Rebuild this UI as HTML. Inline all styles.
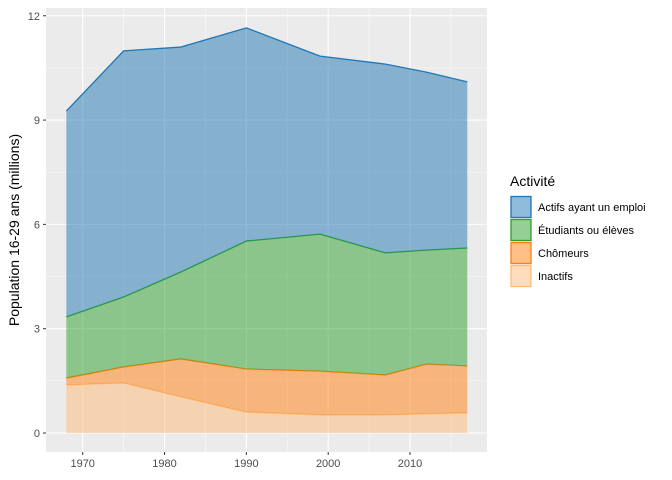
<!DOCTYPE html>
<html><head><meta charset="utf-8"><style>
body{margin:0;background:#fff;}
svg{display:block;font-family:"Liberation Sans",sans-serif;}
</style></head><body>
<svg id="chart" width="672" height="480">
<rect x="46" y="8" width="441" height="444" fill="#ebebeb"/>
<g id="grid"></g>
<g id="areas"></g>
<g id="axes"></g>
<text transform="translate(19,230) rotate(-90)" text-anchor="middle" font-size="14" fill="#000">Population 16-29 ans (millions)</text>
<g id="legend">
<text x="510" y="186" font-size="14" fill="#000">Activité</text>
</g>
</svg>
<script>
const years=[1968,1975,1982,1990,1999,2007,2012,2017];
const inactifs=[1.38,1.44,1.04,0.60,0.52,0.52,0.55,0.58];
const chomeurs=[0.20,0.46,1.09,1.24,1.26,1.15,1.43,1.35];
const etudiants=[1.76,2.01,2.50,3.68,3.94,3.51,3.28,3.39];
const actifs=[5.92,7.08,6.47,6.13,5.12,5.43,5.12,4.78];
const seriesNames=["Actifs ayant un emploi","Étudiants ou élèves","Chômeurs","Inactifs"];
const seriesColors=["#1f77b4","#2ca02c","#ff7f0e","#ffbb78"];
const xTicks=[1970,1980,1990,2000,2010];
const yTicks=[0,3,6,9,12];
const ns="http://www.w3.org/2000/svg";
const X=v=>82.7+(v-1970)*8.183;
const Y=v=>433-v*34.77;
function mk(t,a,p){const e=document.createElementNS(ns,t);for(const k in a)e.setAttribute(k,a[k]);p.appendChild(e);return e;}
const grid=document.getElementById('grid'),axes=document.getElementById('axes'),areas=document.getElementById('areas');
for(let i=0;i<yTicks.length;i++){
  const l=mk('line',{x1:46,x2:487,y1:Y(yTicks[i]),y2:Y(yTicks[i]),stroke:'#fff','stroke-width':1.1},grid);
  
  
  if(i<yTicks.length-1){const m=mk('line',{x1:46,x2:487,y1:Y((yTicks[i]+yTicks[i+1])/2),y2:Y((yTicks[i]+yTicks[i+1])/2),stroke:'#fafafa','stroke-width':0.5},grid);
  
  }
  const t=mk('text',{x:40,y:Y(yTicks[i])+4,'text-anchor':'end','font-size':11,fill:'#4d4d4d'},axes);
  t.textContent=yTicks[i];
  
  
  mk('line',{x1:43,x2:46,y1:Y(yTicks[i]),y2:Y(yTicks[i]),stroke:'#333'},axes);
}
for(let i=0;i<xTicks.length;i++){
  const l=mk('line',{x1:X(xTicks[i]),x2:X(xTicks[i]),y1:8,y2:452,stroke:'#fff','stroke-width':1.1},grid);
  
  
  [xTicks[i]-5,xTicks[i]+5].forEach(v=>{if(X(v)>46&&X(v)<487){const m=mk('line',{x1:X(v),x2:X(v),y1:8,y2:452,stroke:'#fafafa','stroke-width':0.5},grid);
  
  }});
  const t=mk('text',{x:X(xTicks[i]),y:467,'text-anchor':'middle','font-size':11,fill:'#4d4d4d'},axes);
  t.textContent=xTicks[i];
  
  
  mk('line',{x1:X(xTicks[i]),x2:X(xTicks[i]),y1:452,y2:455,stroke:'#333'},axes);
}
const layers=[inactifs,chomeurs,etudiants,actifs];
let base=years.map(()=>0);
const built=[];
for(let s=0;s<layers.length;s++){
  const top=base.map((b,i)=>b+layers[s][i]);
  built.push({base:base.slice(),top});
  base=top;
}
const names=['inactifs','chomeurs','etudiants','actifs'];
const cols=[seriesColors[3],seriesColors[2],seriesColors[1],seriesColors[0]];
for(let s=0;s<built.length;s++){
  const {base:b,top}=built[s];
  let d='M'+years.map((y,i)=>X(y)+','+Y(top[i])).join('L');
  d+='L'+years.map((y,i)=>[X(y),Y(b[i])]).reverse().map(p=>p.join(',')).join('L')+'Z';
  const a=mk('path',{d,fill:cols[s],'fill-opacity':0.5,stroke:'none'},areas);
  
  
  const ln=mk('path',{d:'M'+years.map((y,i)=>X(y)+','+Y(top[i])).join('L'),fill:'none',stroke:cols[s],'stroke-width':1.3},areas);
  
  
}
const lg=document.getElementById('legend');
for(let i=0;i<seriesNames.length;i++){
  const y=196+i*23;
  const k=mk('rect',{x:511,y:y+0.5,width:20,height:21,fill:seriesColors[i],'fill-opacity':0.5,stroke:seriesColors[i],'stroke-width':1.3},lg);
  
  
  const t=mk('text',{x:538,y:y+15,'font-size':11,fill:'#000'},lg);
  t.textContent=seriesNames[i];
  
  
}
</script>
</body></html>
